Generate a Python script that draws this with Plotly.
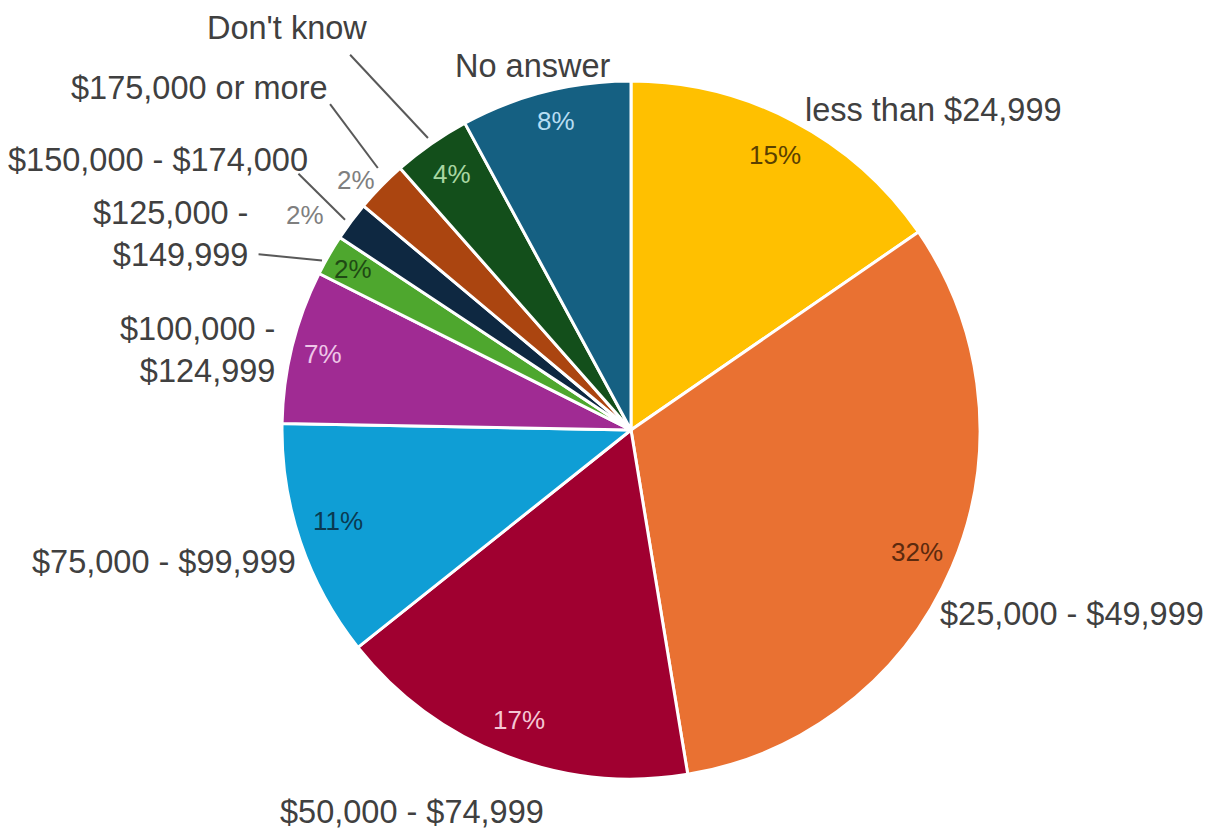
import math
import plotly.graph_objects as go

# ---- data ----
categories = [
    "less than $24,999",
    "$25,000 - $49,999",
    "$50,000 - $74,999",
    "$75,000 - $99,999",
    "$100,000 - $124,999",
    "$125,000 - $149,999",
    "$150,000 - $174,000",
    "$175,000 or more",
    "Don't know",
    "No answer",
]
label_texts = [
    "less than $24,999",
    "$25,000 - $49,999",
    "$50,000 - $74,999",
    "$75,000 - $99,999",
    "$100,000 -<br>$124,999",
    "$125,000 -<br>$149,999",
    "$150,000 - $174,000",
    "$175,000 or more",
    "Don't know",
    "No answer",
]
shares = [15.4, 32.0, 16.9, 11.0, 7.1, 1.9, 1.8, 2.4, 3.6, 7.9]

# ---- style ----
fill_colors = ["#FFC000", "#E97132", "#A00030", "#0F9ED5", "#A02B93",
               "#4EA72E", "#0E2841", "#AB4510", "#134F1B", "#156082"]
pct_colors = ["#5A4000", "#5C2A0E", "#F4C6D4", "#0A3A52", "#EEC6E8",
              "#1F4A14", "#7F7F7F", "#7F7F7F", "#A8D6A2", "#B7DDF2"]
# percent label placement: (radius factor, angle offset deg)
pct_place = [(0.89, 0), (0.89, 0), (0.89, 0), (0.88, 1.5), (0.91, 0),
             (0.92, 0), (1.12, -3.3), (1.065, -2.1), (0.895, 0), (0.91, 0.5)]
# category label placement: (radius factor, angle offset, xanchor)
cat_place = [(1.04, 0.5, "left"), (1.025, 8.0, "left"), (1.262, 8.7, "center"),
             (1.026, -2.9, "right"), (1.04, -1.2, "right"), (1.228, -2.9, "right"),
             (1.202, 3.4, "right"), (1.305, 4.35, "right"), (1.516, -5.6, "center"),
             (1.08, -0.9, "center")]
# leader lines: index -> (start r, start dθ, end r, end dθ)
leaders = {5: (1.18, -4.8, 1.01, -1.3),
           6: (1.203, 0.9, 1.017, -0.4),
           7: (1.271, 3.0, 1.044, 1.7),
           8: (1.343, -1.9, 1.019, 0.1)}

W, H = 1209, 831
CX, CY, R = 631, 430, 349
FONT = "Liberation Sans, Arial, sans-serif"

def to_paper(px, py):
    return px / W, 1 - py / H

def polar(rf, theta):
    t = math.radians(theta)
    return CX + rf * R * math.sin(t), CY - rf * R * math.cos(t)

total = sum(shares)
mids = []
acc = 0.0
for v in shares:
    a0 = acc / total * 360
    acc += v
    a1 = acc / total * 360
    mids.append((a0 + a1) / 2)

fig = go.Figure()
fig.add_trace(go.Pie(
    labels=categories,
    values=shares,
    sort=False,
    direction="clockwise",
    rotation=0,
    marker=dict(colors=fill_colors, line=dict(color="white", width=3)),
    textinfo="none",
    hoverinfo="label+percent",
    showlegend=False,
    domain=dict(x=[(CX - R) / W, (CX + R) / W],
                y=[(H - CY - R) / H, (H - CY + R) / H]),
))

annotations = []
for i, v in enumerate(shares):
    rf, dth = pct_place[i]
    px, py = polar(rf, mids[i] + dth)
    x, y = to_paper(px, py)
    annotations.append(dict(
        x=x, y=y, xref="paper", yref="paper", showarrow=False,
        text=f"{round(v / total * 100)}%",
        font=dict(family=FONT, size=26, color=pct_colors[i]),
        xanchor="center", yanchor="middle"))
    rf, dth, xa = cat_place[i]
    px, py = polar(rf, mids[i] + dth)
    x, y = to_paper(px, py)
    annotations.append(dict(
        x=x, y=y, xref="paper", yref="paper", showarrow=False,
        text=label_texts[i], align=xa if xa != "center" else "center",
        font=dict(family=FONT, size=32.5, color="#404040"),
        xanchor=xa, yanchor="middle"))

shapes = []
for i, (r0, d0, r1, d1) in leaders.items():
    x0, y0 = to_paper(*polar(r0, mids[i] + d0))
    x1, y1 = to_paper(*polar(r1, mids[i] + d1))
    shapes.append(dict(type="line", xref="paper", yref="paper",
                       x0=x0, y0=y0, x1=x1, y1=y1,
                       line=dict(color="#595959", width=2)))

fig.update_layout(
    width=W, height=H,
    margin=dict(l=0, r=0, t=0, b=0),
    paper_bgcolor="white", plot_bgcolor="white",
    annotations=annotations,
    shapes=shapes,
)

fig.write_html("out.html")
